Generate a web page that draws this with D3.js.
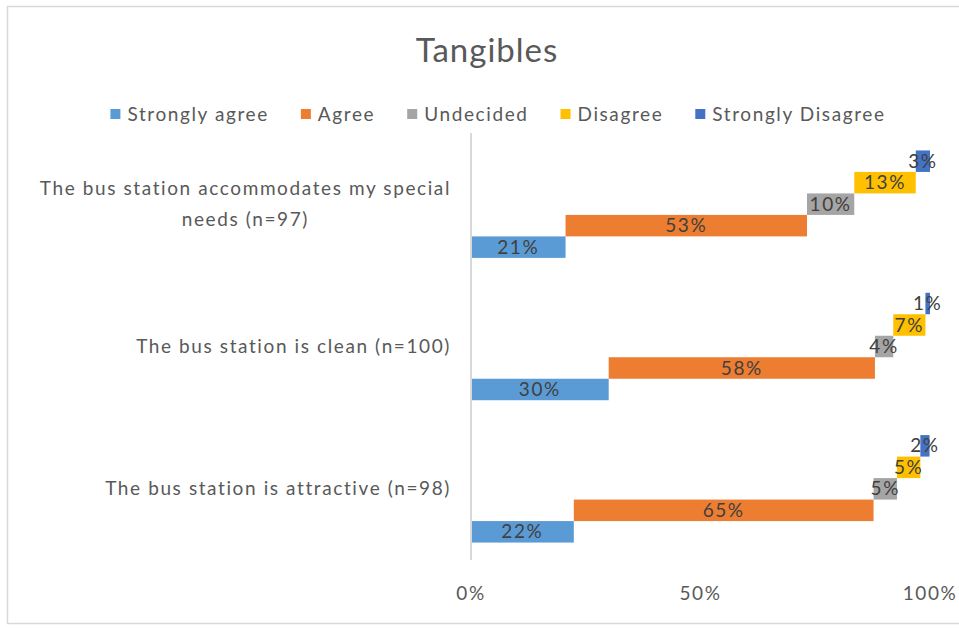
<!DOCTYPE html>
<html>
<head>
<meta charset="utf-8">
<script src="https://cdn.jsdelivr.net/npm/d3@7"></script>
<style>
  body { margin: 0; background: #fff; }
  svg { display: block; }
  text { font-family: Lato, "Open Sans", sans-serif; }
</style>
</head>
<body>
<svg id="chart" width="959" height="628"></svg>
<script>
// categories, top to bottom
const categories = [
  "The bus station accommodates my special needs (n=97)",
  "The bus station is clean (n=100)",
  "The bus station is attractive (n=98)"
];
const series = ["Strongly agree", "Agree", "Undecided", "Disagree", "Strongly Disagree"];
const colors = ["#5b9bd5", "#ed7d31", "#a5a5a5", "#ffc000", "#4472c4"];

// percentages per category
const stronglyAgree    = [20.6, 30, 22.4];
const agree            = [52.6, 58, 65.3];
const undecided        = [10.3, 4, 5.1];
const disagree         = [13.4, 7, 5.1];
const stronglyDisagree = [3.1, 1, 2.0];

const xTicks = [0, 50, 100];

const values = [stronglyAgree, agree, undecided, disagree, stronglyDisagree];

const svg = d3.select("#chart");
const width = +svg.attr("width");
const height = +svg.attr("height");

const plot = { left: 471, right: 930, top: 133, bottom: 560 };
const spacing = 1.6; // letter spacing, the source font runs wide

// chart frame
svg.append("rect")
  .attr("x", 7.5).attr("y", 6.5)
  .attr("width", 960).attr("height", 617)
  .attr("fill", "#fff")
  .attr("stroke", "#d9d9d9")
  .attr("stroke-width", 1.5);

// title
svg.append("text")
  .attr("x", 487).attr("y", 62)
  .attr("text-anchor", "middle")
  .attr("font-size", 33)
  .attr("letter-spacing", 1)
  .attr("fill", "#595959")
  .text("Tangibles");

const x = d3.scaleLinear().domain([0, 100]).range([plot.left, plot.right]);

const y = d3.scaleBand()
  .domain(categories)
  .range([plot.top, plot.bottom])
  .paddingInner(0.245)
  .paddingOuter(0.1225);

// Strongly agree is the lowest bar in every group
const ySeries = d3.scaleBand()
  .domain(series.slice().reverse())
  .range([0, y.bandwidth()]);

// build segments: each bar starts where the previous one ended
const segments = [];
categories.forEach((cat, ci) => {
  let start = 0;
  series.forEach((s, si) => {
    const v = values[si][ci];
    segments.push({ cat, series: s, color: colors[si], x0: start, x1: start + v, value: v });
    start += v;
  });
});

const bars = svg.append("g");
bars.selectAll("rect")
  .data(segments)
  .enter()
  .append("rect")
  .attr("x", d => x(d.x0))
  .attr("y", d => y(d.cat) + ySeries(d.series))
  .attr("width", d => x(d.x1) - x(d.x0))
  .attr("height", ySeries.bandwidth())
  .attr("fill", d => d.color);

bars.selectAll("text")
  .data(segments)
  .enter()
  .append("text")
  .attr("x", d => (x(d.x0) + x(d.x1)) / 2)
  .attr("y", d => y(d.cat) + ySeries(d.series) + ySeries.bandwidth() / 2)
  .attr("dy", "0.35em")
  .attr("text-anchor", "middle")
  .attr("font-size", 19)
  .attr("letter-spacing", spacing)
  .attr("fill", "#404040")
  .text(d => Math.round(d.value) + "%");

// vertical axis line
svg.append("line")
  .attr("x1", plot.left).attr("x2", plot.left)
  .attr("y1", plot.top).attr("y2", plot.bottom)
  .attr("stroke", "#d9d9d9")
  .attr("stroke-width", 2);

// x tick labels
svg.append("g")
  .selectAll("text")
  .data(xTicks)
  .enter()
  .append("text")
  .attr("x", d => x(d))
  .attr("y", 600)
  .attr("text-anchor", "middle")
  .attr("font-size", 19)
  .attr("letter-spacing", spacing)
  .attr("fill", "#595959")
  .text(d => d + "%");

// category labels, wrapped and centred as a block that ends at the axis
const labelRight = 451;
const lineHeight = 31;
const catG = svg.append("g");
categories.forEach(cat => {
  const t = catG.append("text")
    .attr("font-size", 19)
    .attr("letter-spacing", spacing)
    .attr("fill", "#595959")
    .attr("text-anchor", "middle");
  const words = cat.split(" ");
  const lines = [];
  let line = [];
  const probe = t.append("tspan");
  words.forEach(w => {
    line.push(w);
    probe.text(line.join(" "));
    if (probe.node().getComputedTextLength() > 420 && line.length > 1) {
      line.pop();
      lines.push(line.join(" "));
      line = [w];
    }
  });
  lines.push(line.join(" "));
  probe.remove();

  let maxW = 0;
  const cy = y(cat) + y.bandwidth() / 2;
  lines.forEach((l, i) => {
    const ts = t.append("tspan")
      .attr("y", cy + (i - (lines.length - 1) / 2) * lineHeight)
      .attr("dy", "0.35em")
      .text(l);
    maxW = Math.max(maxW, ts.node().getComputedTextLength());
  });
  t.selectAll("tspan").attr("x", labelRight - maxW / 2);
});

// legend
const legend = svg.append("g");
let lx = 0;
series.forEach((s, i) => {
  const item = legend.append("g").attr("transform", `translate(${lx},0)`);
  item.append("rect")
    .attr("x", 0).attr("y", -5)
    .attr("width", 10).attr("height", 10)
    .attr("fill", colors[i]);
  const t = item.append("text")
    .attr("x", 17).attr("dy", "0.35em")
    .attr("font-size", 19)
    .attr("letter-spacing", spacing)
    .attr("fill", "#595959")
    .text(s);
  lx += 17 + t.node().getComputedTextLength() + 32;
});
const legendW = lx - 32;
legend.attr("transform", `translate(${498 - legendW / 2},114)`);
</script>
</body>
</html>
